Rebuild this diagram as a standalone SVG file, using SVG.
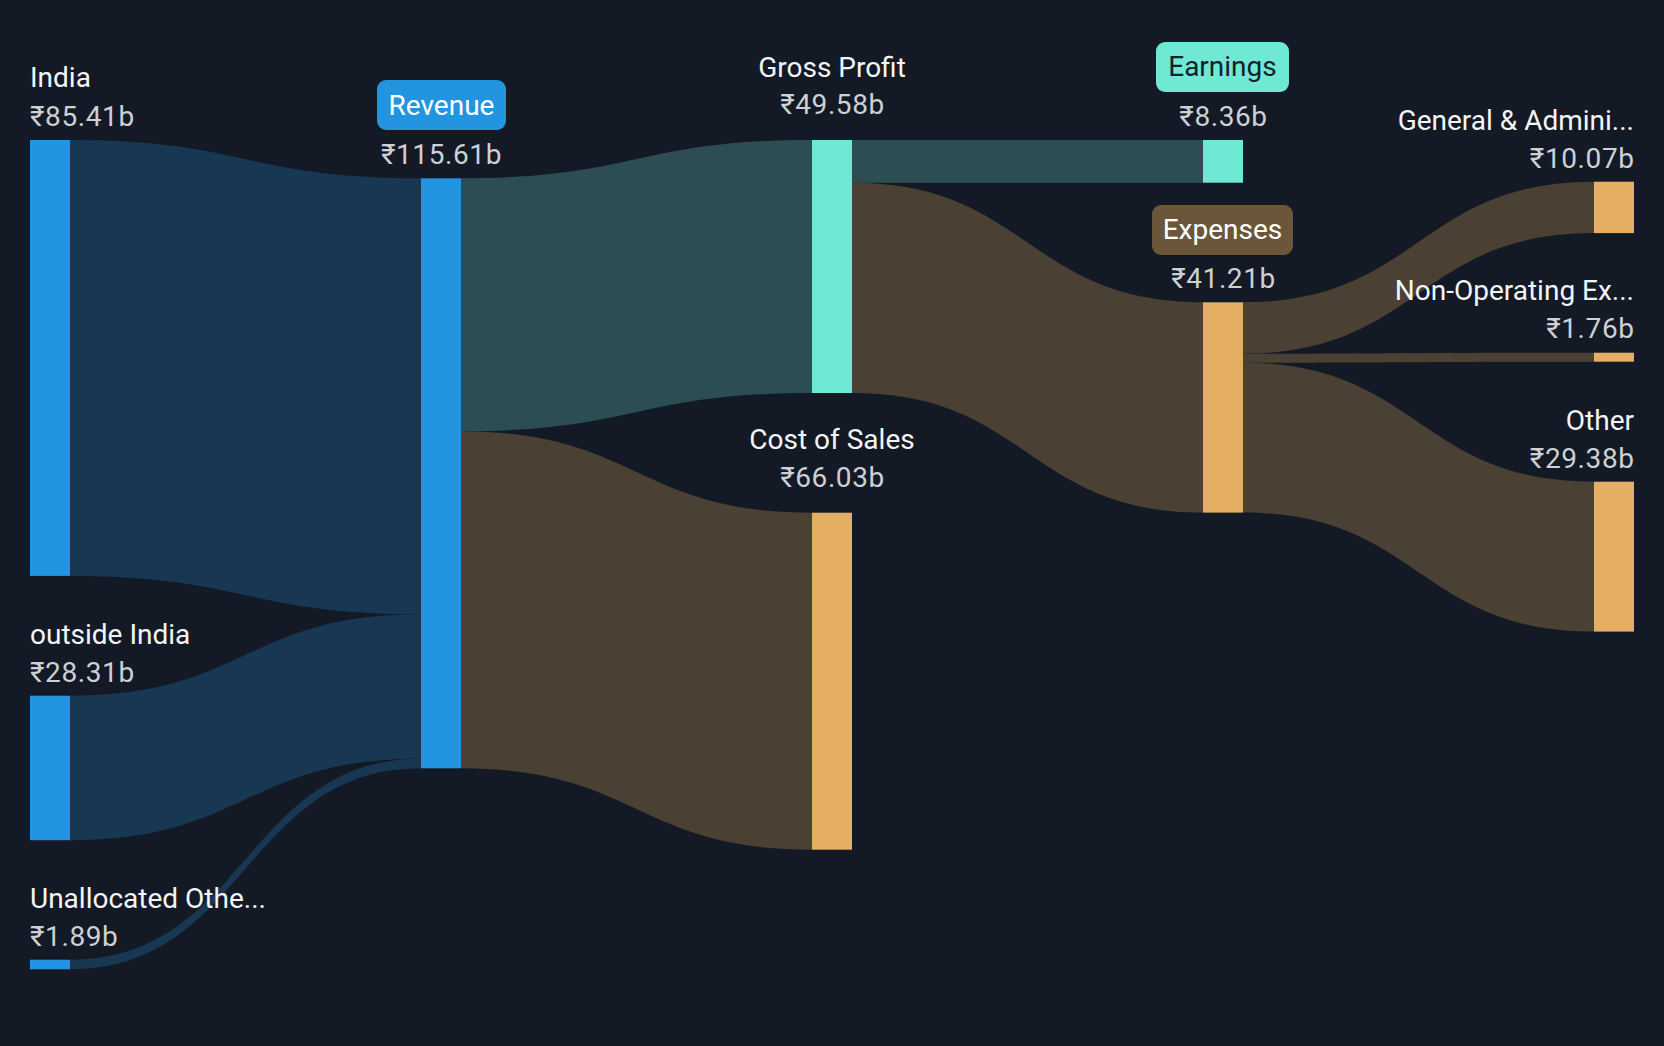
<svg xmlns="http://www.w3.org/2000/svg" width="1664" height="1046" viewBox="0 0 1664 1046">
<style>
.lbl{font-family:Roboto,"Noto Sans","DejaVu Sans",sans-serif;font-size:28px;fill:#f4f5f6}
.val{font-family:Roboto,"Noto Sans","DejaVu Sans",sans-serif;font-size:28px;fill:#cdd0d5;letter-spacing:0.6px}
.mid{text-anchor:middle}
.end{text-anchor:end}
.fb{fill:#183753}
.ft{fill:#2c4e52}
.fo{fill:#4a4034}
.nb{fill:#2394df}
.nt{fill:#6fe8d4}
.no{fill:#e4af62}
</style>
<rect x="0" y="0" width="1664" height="1046" fill="#141a25"/>
<g id="connectors">
<path class="fb" d="M70,140 C245.5,140 245.5,178.3 421,178.3 L421,614.2 C245.5,614.2 245.5,575.9 70,575.9 Z"/>
<path class="fb" d="M70,695.7 C245.5,695.7 245.5,614.2 421,614.2 L421,758.7 C245.5,758.7 245.5,840.2 70,840.2 Z"/>
<path class="fb" d="M70,959.7 C245.5,959.7 245.5,758.7 421,758.7 L421,768.3 C245.5,768.3 245.5,969.3 70,969.3 Z"/>
<path class="ft" d="M461,178.3 C636.5,178.3 636.5,140 812,140 L812,393 C636.5,393 636.5,431.3 461,431.3 Z"/>
<path class="fo" d="M461,431.3 C636.5,431.3 636.5,512.7 812,512.7 L812,849.7 C636.5,849.7 636.5,768.3 461,768.3 Z"/>
<path class="ft" d="M852,140 L1203,140 L1203,182.7 L852,182.7 Z"/>
<path class="fo" d="M852,182.7 C1027.5,182.7 1027.5,302.3 1203,302.3 L1203,512.6 C1027.5,512.6 1027.5,393 852,393 Z"/>
<path class="fo" d="M1243,302.3 C1418.5,302.3 1418.5,181.7 1594,181.7 L1594,233.1 C1418.5,233.1 1418.5,353.7 1243,353.7 Z"/>
<path class="fo" d="M1243,353.7 C1418.5,353.7 1418.5,352.7 1594,352.7 L1594,361.7 C1418.5,361.7 1418.5,362.7 1243,362.7 Z"/>
<path class="fo" d="M1243,362.7 C1418.5,362.7 1418.5,481.7 1594,481.7 L1594,631.6 C1418.5,631.6 1418.5,512.6 1243,512.6 Z"/>
</g>
<g id="india">
<rect class="nb" x="30" y="140" width="40" height="435.9"/>
<text class="lbl" x="30" y="87">India</text>
<text class="val" x="30" y="125.5">₹85.41b</text>
</g>
<g id="outside-india">
<rect class="nb" x="30" y="695.7" width="40" height="144.5"/>
<text class="lbl" x="30" y="643.5">outside India</text>
<text class="val" x="30" y="681.5">₹28.31b</text>
</g>
<g id="unallocated">
<rect class="nb" x="30" y="959.7" width="40" height="9.6"/>
<text class="lbl" x="30" y="907.5">Unallocated Othe...</text>
<text class="val" x="30" y="945.5">₹1.89b</text>
</g>
<g id="revenue">
<rect class="nb" x="421" y="178.3" width="40" height="590"/>
<rect x="377" y="80" width="129" height="50" rx="9" fill="#2394df"/>
<text class="lbl mid" x="441.5" y="114.5" style="fill:#ffffff">Revenue</text>
<text class="val mid" x="441.5" y="163.5">₹115.61b</text>
</g>
<g id="gross-profit">
<rect class="nt" x="812" y="140" width="40" height="253"/>
<text class="lbl mid" x="832" y="76.5">Gross Profit</text>
<text class="val mid" x="832.5" y="113.5">₹49.58b</text>
</g>
<g id="cost-of-sales">
<rect class="no" x="812" y="512.7" width="40" height="337"/>
<text class="lbl mid" x="832" y="448.5">Cost of Sales</text>
<text class="val mid" x="832.5" y="486.5">₹66.03b</text>
</g>
<g id="earnings">
<rect class="nt" x="1203" y="140" width="40" height="42.7"/>
<rect x="1156" y="42" width="133" height="50" rx="9" fill="#6fe8d4"/>
<text class="lbl mid" x="1222.5" y="76" style="fill:#16202a">Earnings</text>
<text class="val mid" x="1223.5" y="125.5">₹8.36b</text>
</g>
<g id="expenses">
<rect class="no" x="1203" y="302.3" width="40" height="210.3"/>
<rect x="1152" y="205" width="141" height="50" rx="9" fill="#6b5639"/>
<text class="lbl mid" x="1222.5" y="238.5" style="fill:#ffffff">Expenses</text>
<text class="val mid" x="1223.5" y="287.5">₹41.21b</text>
</g>
<g id="general-admin">
<rect class="no" x="1594" y="181.7" width="40" height="51.4"/>
<text class="lbl end" x="1634" y="129.5">General &amp; Admini...</text>
<text class="val end" x="1634.6" y="167.5">₹10.07b</text>
</g>
<g id="non-operating">
<rect class="no" x="1594" y="352.7" width="40" height="9"/>
<text class="lbl end" x="1634" y="299.5">Non-Operating Ex...</text>
<text class="val end" x="1634.6" y="337.5">₹1.76b</text>
</g>
<g id="other">
<rect class="no" x="1594" y="481.7" width="40" height="149.9"/>
<text class="lbl end" x="1634" y="429.5">Other</text>
<text class="val end" x="1634.6" y="467.5">₹29.38b</text>
</g>
</svg>
